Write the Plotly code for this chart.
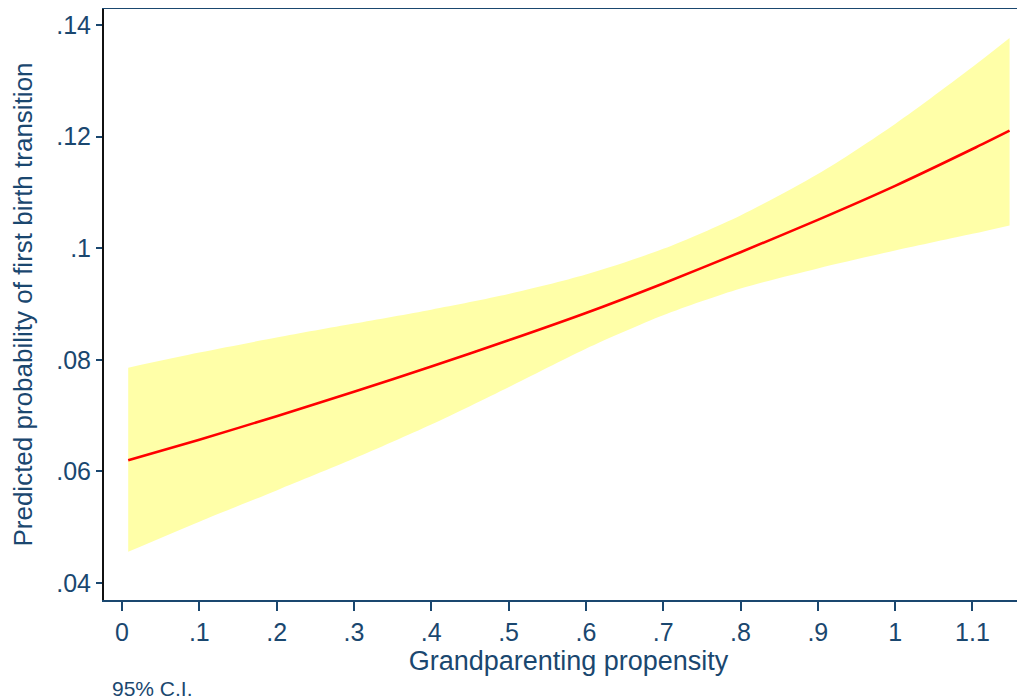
import plotly.graph_objects as go

# Data
x_vals = [0.008, 0.1, 0.2, 0.3, 0.4, 0.5, 0.6, 0.7, 0.8, 0.9, 1.0, 1.1, 1.148]
pred = [0.0620, 0.0657, 0.0699, 0.0743, 0.0788, 0.0835, 0.0884, 0.0937, 0.0993, 0.1051, 0.1112, 0.1178, 0.1211]
upper = [0.0786, 0.0813, 0.0840, 0.0865, 0.0890, 0.0918, 0.0953, 0.0999, 0.1059, 0.1133, 0.1223, 0.1325, 0.1377]
lower = [0.0456, 0.0510, 0.0566, 0.0623, 0.0684, 0.0751, 0.0820, 0.0880, 0.0928, 0.0964, 0.0996, 0.1026, 0.1041]

x_ticks = [0, 0.1, 0.2, 0.3, 0.4, 0.5, 0.6, 0.7, 0.8, 0.9, 1.0, 1.1]
x_tick_text = ["0", ".1", ".2", ".3", ".4", ".5", ".6", ".7", ".8", ".9", "1", "1.1"]
y_ticks = [0.04, 0.06, 0.08, 0.10, 0.12, 0.14]
y_tick_text = [".04", ".06", ".08", ".1", ".12", ".14"]

navy = "#1a476f"
font_family = "Liberation Sans, Arial, sans-serif"

fig = go.Figure()
fig.add_trace(go.Scatter(
    x=x_vals, y=lower, mode="lines",
    line=dict(width=0, shape="spline", smoothing=0.8, color="#FFFFA8"),
    hoverinfo="skip", showlegend=False,
))
fig.add_trace(go.Scatter(
    x=x_vals, y=upper, mode="lines",
    fill="tonexty", fillcolor="#FFFFA8",
    line=dict(width=0, shape="spline", smoothing=0.8, color="#FFFFA8"),
    hoverinfo="skip", showlegend=False,
))
fig.add_trace(go.Scatter(
    x=x_vals, y=pred, mode="lines",
    line=dict(color="#FF0000", width=2.6, shape="spline", smoothing=0.8),
    showlegend=False,
))

# the page body adds an 8 px offset; margins compensate for it
fig.update_layout(
    width=1025, height=699,
    margin=dict(l=96, r=0, t=1, b=107),
    paper_bgcolor="white", plot_bgcolor="white",
    font=dict(family=font_family, color=navy),
    annotations=[dict(
        text="95% C.I.", xref="paper", yref="paper",
        x=(110 - 104) / (1025 - 104 + 8), y=-(688 - 600) / (600 - 9),
        xanchor="left", yanchor="middle", showarrow=False,
        font=dict(size=21, color=navy, family=font_family),
    )],
)
fig.update_xaxes(
    range=[-0.0233, 1.1783], automargin=False,
    tickvals=x_ticks, ticktext=x_tick_text,
    ticks="outside", ticklen=9, tickwidth=1.5, tickcolor=navy,
    tickfont=dict(size=25, color=navy),
    showline=True, linecolor=navy, linewidth=2, mirror=True,
    showgrid=False, zeroline=False,
    title=dict(text="Grandparenting propensity", font=dict(size=27, color=navy), standoff=0),
)
fig.update_yaxes(
    range=[0.03695, 0.1429], automargin=False,
    tickvals=y_ticks, ticktext=y_tick_text,
    ticks="outside", ticklen=6, tickwidth=1.5, tickcolor=navy,
    tickfont=dict(size=25, color=navy),
    showline=True, linecolor="#111111", linewidth=2,
    showgrid=False, zeroline=False,
    title=dict(text="Predicted probability of first birth transition", font=dict(size=26, color=navy), standoff=19),
)

fig.write_html("out.html")
